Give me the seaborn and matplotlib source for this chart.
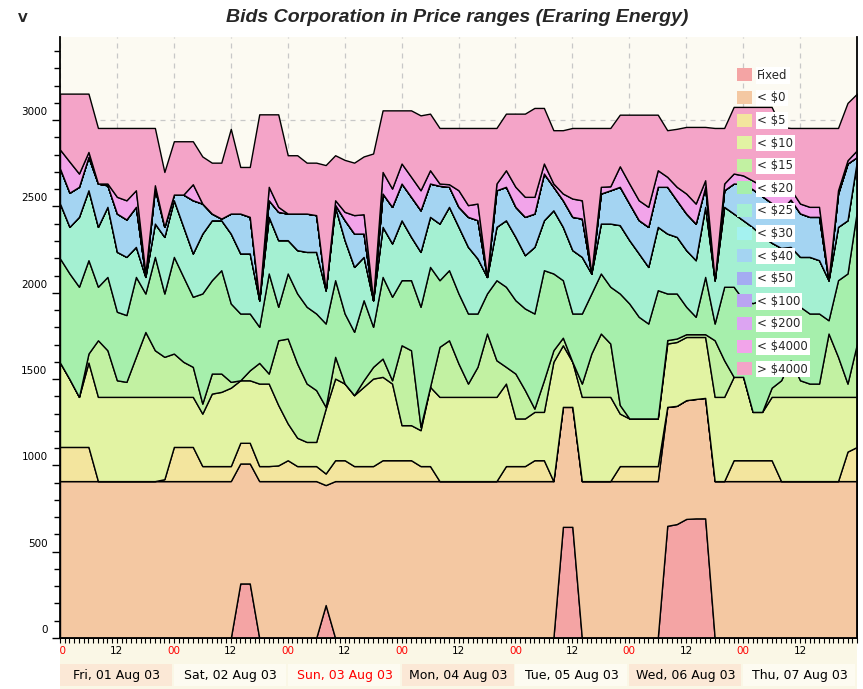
import numpy as np
import pandas as pd
import matplotlib
matplotlib.use("Agg")
import matplotlib.pyplot as plt
import matplotlib.transforms as mtransforms
from matplotlib.patches import Patch, Rectangle
from matplotlib.ticker import MultipleLocator
import seaborn as sns

# readings every 2 hours, Fri 01 Aug 2003 00:00 -> Fri 08 Aug 2003 00:00
times = pd.date_range("2003-08-01 00:00", "2003-08-08 00:00", freq="2h")
hours = ((times - times[0]) / pd.Timedelta(hours=1)).to_numpy()

price_bands = ["Fixed", "< $0", "< $5", "< $10", "< $15", "< $20", "< $25",
               "< $30", "< $40", "< $50", "< $100", "< $200", "< $4000", "> $4000"]
band_colors = ["#F4A4A4", "#F4C8A2", "#F3E59E", "#E2F3A3", "#C2F1A2", "#A6EFAC",
               "#A4F0D2", "#A4F2F0", "#A4D4F2", "#A4ACF2", "#BAA4F2", "#DCA4F2",
               "#F2A4EA", "#F4A4C8"]

days = ["Fri, 01 Aug 03", "Sat, 02 Aug 03", "Sun, 03 Aug 03", "Mon, 04 Aug 03",
        "Tue, 05 Aug 03", "Wed, 06 Aug 03", "Thu, 07 Aug 03"]

# cumulative MW offered up to each price band, one line per day (2-hourly)
upto_fixed = [0, 0, 0, 0, 0, 0, 0, 0, 0, 0, 0, 0,
              0, 0, 0, 0, 0, 0, 0, 316, 316, 0, 0, 0,
              0, 0, 0, 0, 191, 0, 0, 0, 0, 0, 0, 0,
              0, 0, 0, 0, 0, 0, 0, 0, 0, 0, 0, 0,
              0, 0, 0, 0, 0, 644, 644, 0, 0, 0, 0, 0,
              0, 0, 0, 0, 650, 660, 690, 693, 693, 0, 0, 0,
              0, 0, 0, 0, 0, 0, 0, 0, 0, 0, 0, 0,
              0]
upto_0 = [909, 909, 909, 909, 909, 909, 909, 909, 909, 909, 909, 909,
          909, 909, 909, 909, 909, 909, 909, 1011, 1011, 909, 909, 909,
          909, 909, 909, 909, 886, 909, 909, 909, 909, 909, 909, 909,
          909, 909, 909, 909, 909, 909, 909, 909, 909, 909, 909, 909,
          909, 909, 909, 909, 909, 1339, 1339, 909, 909, 909, 909, 909,
          909, 909, 909, 909, 1339, 1345, 1378, 1385, 1391, 909, 909, 909,
          909, 909, 909, 909, 909, 909, 909, 909, 909, 909, 909, 909,
          909]
upto_5 = [1107, 1107, 1107, 1107, 909, 909, 909, 909, 909, 909, 909, 920,
          1107, 1107, 1107, 996, 996, 996, 996, 1131, 1131, 996, 996, 1000,
          1030, 996, 996, 996, 953, 1030, 1030, 996, 996, 996, 1030, 1030,
          1030, 1030, 996, 996, 909, 909, 909, 909, 909, 909, 909, 996,
          996, 996, 1030, 1030, 909, 1339, 1339, 909, 909, 909, 909, 996,
          996, 996, 996, 996, 1339, 1345, 1378, 1385, 1391, 909, 909, 1030,
          1030, 1030, 1030, 1030, 909, 909, 909, 909, 909, 909, 909, 1080,
          1107]
upto_10 = [1596, 1500, 1397, 1596, 1397, 1397, 1397, 1397, 1397, 1397, 1397, 1397,
           1397, 1397, 1397, 1300, 1416, 1426, 1450, 1493, 1493, 1474, 1474, 1350,
           1243, 1160, 1136, 1136, 1329, 1503, 1474, 1407, 1455, 1503, 1513, 1474,
           1233, 1233, 1204, 1455, 1397, 1397, 1397, 1397, 1397, 1397, 1397, 1474,
           1272, 1272, 1310, 1310, 1600, 1696, 1600, 1397, 1397, 1397, 1397, 1300,
           1272, 1272, 1272, 1272, 1706, 1715, 1744, 1744, 1744, 1397, 1397, 1513,
           1513, 1310, 1310, 1397, 1397, 1397, 1397, 1397, 1397, 1397, 1397, 1397,
           1397]
upto_15 = [1596, 1500, 1397, 1648, 1725, 1667, 1493, 1484, 1629, 1773, 1667, 1629,
           1648, 1600, 1571, 1358, 1532, 1532, 1484, 1493, 1551, 1594, 1532, 1725,
           1735, 1590, 1474, 1436, 1339, 1629, 1474, 1407, 1493, 1571, 1619, 1493,
           1696, 1667, 1223, 1455, 1687, 1725, 1590, 1474, 1571, 1764, 1609, 1571,
           1532, 1436, 1329, 1493, 1667, 1740, 1600, 1474, 1648, 1764, 1706, 1350,
           1272, 1272, 1272, 1272, 1726, 1735, 1760, 1760, 1760, 1725, 1609, 1513,
           1513, 1310, 1310, 1450, 1493, 1609, 1493, 1474, 1474, 1764, 1629, 1474,
           1706]
upto_20 = [2199, 2112, 2035, 2189, 2035, 2092, 1890, 1871, 2092, 1996, 2208, 1996,
           2208, 2092, 1977, 1996, 2073, 2131, 1938, 1880, 1880, 1803, 2112, 1919,
           2112, 1996, 1919, 1880, 1822, 2073, 1880, 1774, 1957, 1803, 2092, 1977,
           2073, 2073, 1919, 2150, 2073, 2131, 1996, 1880, 1880, 1996, 2073, 2035,
           1957, 1909, 1880, 2131, 2112, 2073, 1880, 1880, 1996, 2112, 2035, 1996,
           1938, 1861, 1822, 2015, 1996, 1996, 1919, 1861, 2092, 1822, 2035, 2035,
           1960, 1940, 1960, 1980, 1960, 1957, 1919, 1880, 1880, 1841, 2073, 2112,
           2478]
upto_25 = [2517, 2382, 2440, 2594, 2382, 2498, 2237, 2208, 2266, 2092, 2401, 2324,
           2536, 2382, 2228, 2343, 2420, 2420, 2343, 2228, 2228, 1957, 2440, 2305,
           2305, 2247, 2237, 2237, 2015, 2498, 2305, 2150, 2208, 1957, 2382, 2286,
           2420, 2324, 2237, 2440, 2401, 2498, 2382, 2266, 2199, 2092, 2382, 2420,
           2324, 2218, 2266, 2420, 2478, 2382, 2247, 2208, 2112, 2401, 2401, 2392,
           2305, 2228, 2150, 2382, 2343, 2324, 2247, 2189, 2498, 2073, 2498, 2459,
           2420, 2380, 2330, 2290, 2260, 2266, 2208, 2208, 2189, 2073, 2382, 2420,
           2768]
upto_40 = [2720, 2580, 2614, 2787, 2633, 2623, 2459, 2425, 2498, 2100, 2604, 2382,
           2569, 2569, 2536, 2517, 2459, 2430, 2459, 2459, 2440, 1957, 2536, 2469,
           2459, 2459, 2459, 2450, 2015, 2510, 2421, 2343, 2343, 1957, 2575, 2498,
           2633, 2556, 2478, 2633, 2620, 2614, 2498, 2440, 2421, 2092, 2594, 2614,
           2498, 2440, 2459, 2691, 2614, 2536, 2440, 2430, 2112, 2575, 2594, 2614,
           2517, 2421, 2382, 2614, 2614, 2536, 2459, 2401, 2614, 2073, 2594, 2633,
           2630, 2600, 2560, 2520, 2480, 2540, 2460, 2440, 2440, 2073, 2575, 2749,
           2787]
upto_4000 = [2830, 2760, 2691, 2816, 2633, 2633, 2556, 2536, 2594, 2112, 2623, 2382,
             2569, 2569, 2629, 2517, 2459, 2430, 2459, 2459, 2440, 1957, 2614, 2498,
             2459, 2459, 2459, 2450, 2015, 2536, 2469, 2450, 2455, 1957, 2700, 2604,
             2749, 2672, 2594, 2710, 2633, 2629, 2594, 2508, 2517, 2092, 2633, 2710,
             2614, 2556, 2556, 2749, 2633, 2575, 2546, 2536, 2112, 2614, 2617, 2733,
             2633, 2536, 2498, 2710, 2672, 2614, 2575, 2517, 2652, 2073, 2633, 2691,
             2680, 2650, 2620, 2600, 2580, 2600, 2517, 2498, 2498, 2073, 2594, 2768,
             2826]
total = [3154, 3154, 3154, 3154, 2955, 2955, 2955, 2955, 2955, 2955, 2955, 2700,
         2878, 2878, 2878, 2790, 2754, 2754, 2950, 2729, 2729, 3034, 3034, 3034,
         2797, 2797, 2754, 2754, 2740, 2797, 2770, 2754, 2790, 2807, 3057, 3057,
         3057, 3057, 3028, 3038, 2955, 2955, 2955, 2955, 2955, 2955, 2955, 3038,
         3038, 3038, 3071, 3071, 2942, 2942, 2955, 2955, 2955, 2955, 2955, 3032,
         3032, 3032, 3032, 3032, 2942, 2950, 2961, 2961, 2961, 2955, 2955, 3077,
         3077, 3077, 3077, 3077, 2961, 2955, 2955, 2955, 2955, 2955, 2955, 3100,
         3154]

# bands with nothing offered (< $30, < $50, < $100, < $200) repeat the level below
zero = np.zeros(len(hours))
levels = np.array([zero, upto_fixed, upto_0, upto_5, upto_10, upto_15, upto_20,
                   upto_25, upto_25, upto_40, upto_40, upto_40, upto_40,
                   upto_4000, total], dtype=float)
bands = np.diff(levels, axis=0)

sns.set_style("ticks")
plt.rcParams["font.family"] = ["DejaVu Sans"]

fig = plt.figure(figsize=(8.63, 6.89), dpi=100)
ax = fig.add_axes([60 / 863, 51 / 689, 797 / 863, 601 / 689])
ax.set_facecolor("#FCFAF2")

ax.stackplot(hours, bands, colors=band_colors, edgecolor="black", linewidth=1.0)

ax.set_xlim(0, 168)
ax.set_ylim(0, 3482)

# axes, ticks and grid
hour_ticks = list(range(0, 157, 12))
ax.set_xticks(hour_ticks)
ax.set_xticklabels(["00" if h % 24 == 0 else "12" for h in hour_ticks])
for lab, h in zip(ax.get_xticklabels(), hour_ticks):
    lab.set_color("red" if h % 24 == 0 else "black")
ax.xaxis.set_minor_locator(MultipleLocator(1))
ax.yaxis.set_minor_locator(MultipleLocator(100))
ax.set_yticks(range(0, 3001, 500))

ax.tick_params(axis="y", which="major", direction="out", length=6, width=1,
               labelsize=7.5, pad=3, color="black", labelcolor="black", left=True)
ax.tick_params(axis="y", which="minor", direction="out", length=4, width=1,
               color="black", left=True)
ax.tick_params(axis="x", which="both", direction="out", length=3.5, width=0.8,
               labelsize=7.5, pad=2.5, color="black", bottom=True)

ax.set_axisbelow(True)
ax.grid(True, which="major", color="#C8C8C8", linestyle=(0, (4, 4)), linewidth=0.9)

ax.spines["top"].set_visible(False)
for side in ["left", "bottom", "right"]:
    ax.spines[side].set_color("black")
    ax.spines[side].set_linewidth(1.3)

# y labels sit a little above their ticks
offset = mtransforms.ScaledTranslation(0, 9 / 100, fig.dpi_scale_trans)
for lab in ax.get_yticklabels():
    lab.set_transform(lab.get_transform() + offset)

# the first "00" is cut by the left edge
clip = mtransforms.TransformedBbox(mtransforms.Bbox([[0, -1], [1, 2]]), ax.transAxes)
first = ax.get_xticklabels()[0]
first.set_clip_box(clip)
first.set_clip_on(True)

# day strip under the time axis
blend = mtransforms.blended_transform_factory(ax.transData, ax.transAxes)
ax.add_patch(Rectangle((0, -0.09), 1, 0.09, transform=ax.transAxes,
                       facecolor="#FAF7E6", edgecolor="none", clip_on=False, zorder=0))
for d, day in enumerate(days):
    face = "#FBE8D6" if d in (0, 3, 5) else "#FDFBF1"
    ax.add_patch(Rectangle((24 * d, -0.0799), 23.6, 0.0366, transform=blend,
                           facecolor=face, edgecolor="none", clip_on=False, zorder=0))
    ax.text(24 * d + 12, -0.0616, day, transform=blend, ha="center", va="center",
            fontsize=9, color="red" if d == 2 else "black")

# legend
handles = [Patch(facecolor=c, edgecolor="none") for c in band_colors]
leg = ax.legend(handles, price_bands, loc="upper left",
                bbox_to_anchor=((736.7 - 60) / 797, (638 - 68.5) / 601),
                frameon=False, fontsize=8.5, handlelength=1.3, handleheight=1.3,
                labelspacing=0.78, handletextpad=0.45, borderpad=0, borderaxespad=0)
for t in leg.get_texts():
    t.set_bbox(dict(facecolor="white", edgecolor="none", pad=1.2))

fig.text(457.5 / 863, 1 - 18 / 689, "Bids Corporation in Price ranges (Eraring Energy)",
         ha="center", va="center", fontsize=14, fontweight="bold", fontstyle="italic",
         family="Liberation Sans")
fig.text(23 / 863, 1 - 18 / 689, "V", ha="center", va="center", fontsize=9,
         fontweight="bold")

fig.savefig("out.png", dpi=100)
